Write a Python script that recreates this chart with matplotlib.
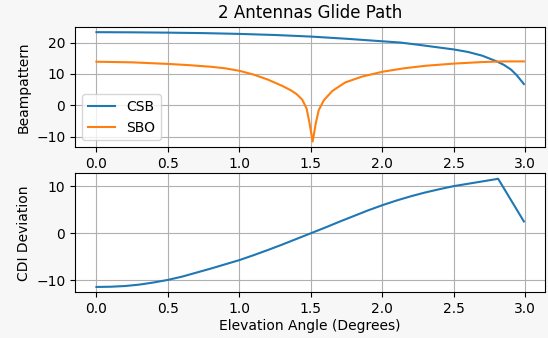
import numpy as np
import matplotlib
matplotlib.use("Agg")
import matplotlib.pyplot as plt

# values (elevation angle in degrees)
csb_angle = [0.0, 0.25, 0.5, 0.75, 1.0, 1.25, 1.5, 1.75, 2.0, 2.125, 2.25, 2.4,
             2.5, 2.6, 2.7, 2.8, 2.85, 2.9, 2.94, 2.99]
csb_db = [23.3, 23.25, 23.15, 23.0, 22.75, 22.4, 21.9, 21.2, 20.4, 20.0, 19.3, 18.4,
          17.8, 17.0, 15.8, 14.0, 12.9, 11.4, 9.6, 6.8]

sbo_angle = [0.0, 0.25, 0.5, 0.65, 0.8, 0.9, 1.0, 1.1, 1.2, 1.3, 1.36, 1.4, 1.44,
             1.47, 1.49, 1.505, 1.512, 1.52, 1.535, 1.555, 1.59, 1.65, 1.74, 1.86,
             2.0, 2.15, 2.3, 2.5, 2.7, 2.85, 2.99]
sbo_db = [13.9, 13.7, 13.2, 12.8, 12.3, 11.8, 11.0, 9.8, 8.2, 6.2, 4.8, 3.6, 1.8,
          -1.0, -5.5, -9.5, -11.5, -9.5, -5.5, -1.5, 1.6, 4.6, 7.3, 9.2,
          10.7, 11.8, 12.6, 13.3, 13.8, 14.0, 14.0]

cdi_angle = [0.0, 0.1, 0.2, 0.3, 0.4, 0.5, 0.6, 0.7, 0.8, 0.9, 1.0, 1.1, 1.2, 1.3,
             1.4, 1.5, 1.6, 1.7, 1.8, 1.9, 2.0, 2.1, 2.2, 2.3, 2.4, 2.5, 2.6, 2.7,
             2.81, 2.99]
cdi_dev = [-11.4, -11.35, -11.2, -10.9, -10.45, -9.9, -9.2, -8.35, -7.5, -6.6, -5.7,
           -4.65, -3.55, -2.4, -1.2, 0.0, 1.2, 2.45, 3.65, 4.85, 5.95, 6.95, 7.85,
           8.65, 9.35, 10.0, 10.5, 11.0, 11.55, 2.5]

fig = plt.figure(figsize=(5.48, 3.38), dpi=100)
fig.patch.set_facecolor('#f7f7f7')

# top: beampatterns
ax1 = fig.add_axes([0.137, 0.565, 0.858, 0.356])
ax1.plot(csb_angle, csb_db, label='CSB')
ax1.plot(sbo_angle, sbo_db, label='SBO')
ax1.set_title('2 Antennas Glide Path')
ax1.set_ylabel('Beampattern')
ax1.legend(loc='lower left')
ax1.grid(True)

# bottom: CDI deviation
ax2 = fig.add_axes([0.137, 0.135, 0.858, 0.352])
ax2.plot(cdi_angle, cdi_dev)
ax2.set_xlabel('Elevation Angle (Degrees)', labelpad=2)
ax2.set_ylabel('CDI Deviation')
ax2.grid(True)

fig.savefig('out.png', dpi=100, facecolor=fig.get_facecolor())
